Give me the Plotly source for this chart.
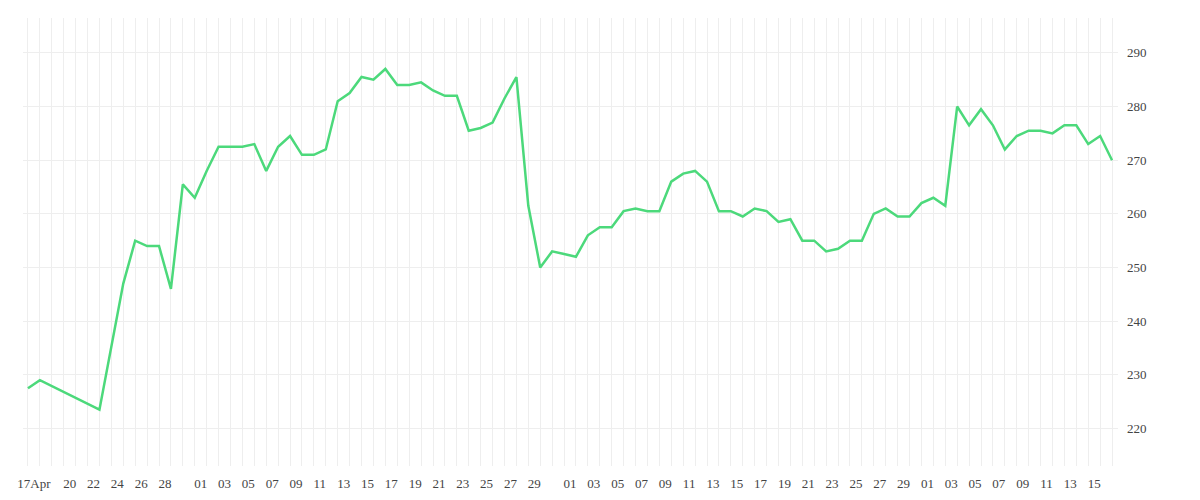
import plotly.graph_objects as go
import pandas as pd

# daily closes, gap Apr 19-22
dates = ["2023-04-17", "2023-04-18"] + [d.strftime("%Y-%m-%d") for d in pd.date_range("2023-04-23", "2023-07-17")]
values = [227.5, 229.0, 223.5, 235.0, 247.0, 255.0, 254.0, 254.0, 246.0, 265.5, 263.0, 268.0,
          272.5, 272.5, 272.5, 273.0, 268.0, 272.5, 274.5, 271.0, 271.0, 272.0, 281.0, 282.5,
          285.5, 285.0, 287.0, 284.0, 284.0, 284.5, 283.0, 282.0, 282.0, 275.5, 276.0, 277.0,
          281.5, 285.5, 261.5, 250.0, 253.0, 252.5, 252.0, 256.0, 257.5, 257.5, 260.5, 261.0,
          260.5, 260.5, 266.0, 267.5, 268.0, 266.0, 260.5, 260.5, 259.5, 261.0, 260.5, 258.5,
          259.0, 255.0, 255.0, 253.0, 253.5, 255.0, 255.0, 260.0, 261.0, 259.5, 259.5, 262.0,
          263.0, 261.5, 280.0, 276.5, 279.5, 276.5, 272.0, 274.5, 275.5, 275.5, 275.0, 276.5,
          276.5, 273.0, 274.5, 270.0]

tick_dates = ["2023-04-17", "2023-04-20", "2023-04-22", "2023-04-24", "2023-04-26", "2023-04-28"] + \
    [f"2023-05-{d:02d}" for d in range(1, 30, 2)] + \
    [f"2023-06-{d:02d}" for d in range(1, 30, 2)] + \
    [f"2023-07-{d:02d}" for d in range(1, 16, 2)]
tick_text = ["17Apr"] + [d[-2:] for d in tick_dates[1:]]

fig = go.Figure(go.Scatter(x=dates, y=values, mode="lines",
                           line=dict(color="#4cd97b", width=2.5)))

fig.update_layout(
    width=1200, height=500,
    margin=dict(t=10, r=90, b=42, l=15),
    plot_bgcolor="white", paper_bgcolor="white",
    showlegend=False,
    font=dict(family="Liberation Serif", size=13, color="#444"),
    xaxis=dict(type="date", range=["2023-04-16 14:00", "2023-07-17 12:00"],
               tickvals=[pd.Timestamp(d) + pd.Timedelta(hours=12) for d in tick_dates],
               ticktext=tick_text, showgrid=False, zeroline=False, automargin=False,
               ticks="", ticklabelstandoff=8,
               minor=dict(dtick=86400000, showgrid=True, gridcolor="#eeeeee", gridwidth=1,
                          tick0="2023-04-17")),
    yaxis=dict(side="right", range=[213, 296.5], dtick=10, tick0=220, showgrid=True,
               gridcolor="#eeeeee", zeroline=False, ticks="", ticklabelstandoff=8),
)

fig.write_html("out.html")
